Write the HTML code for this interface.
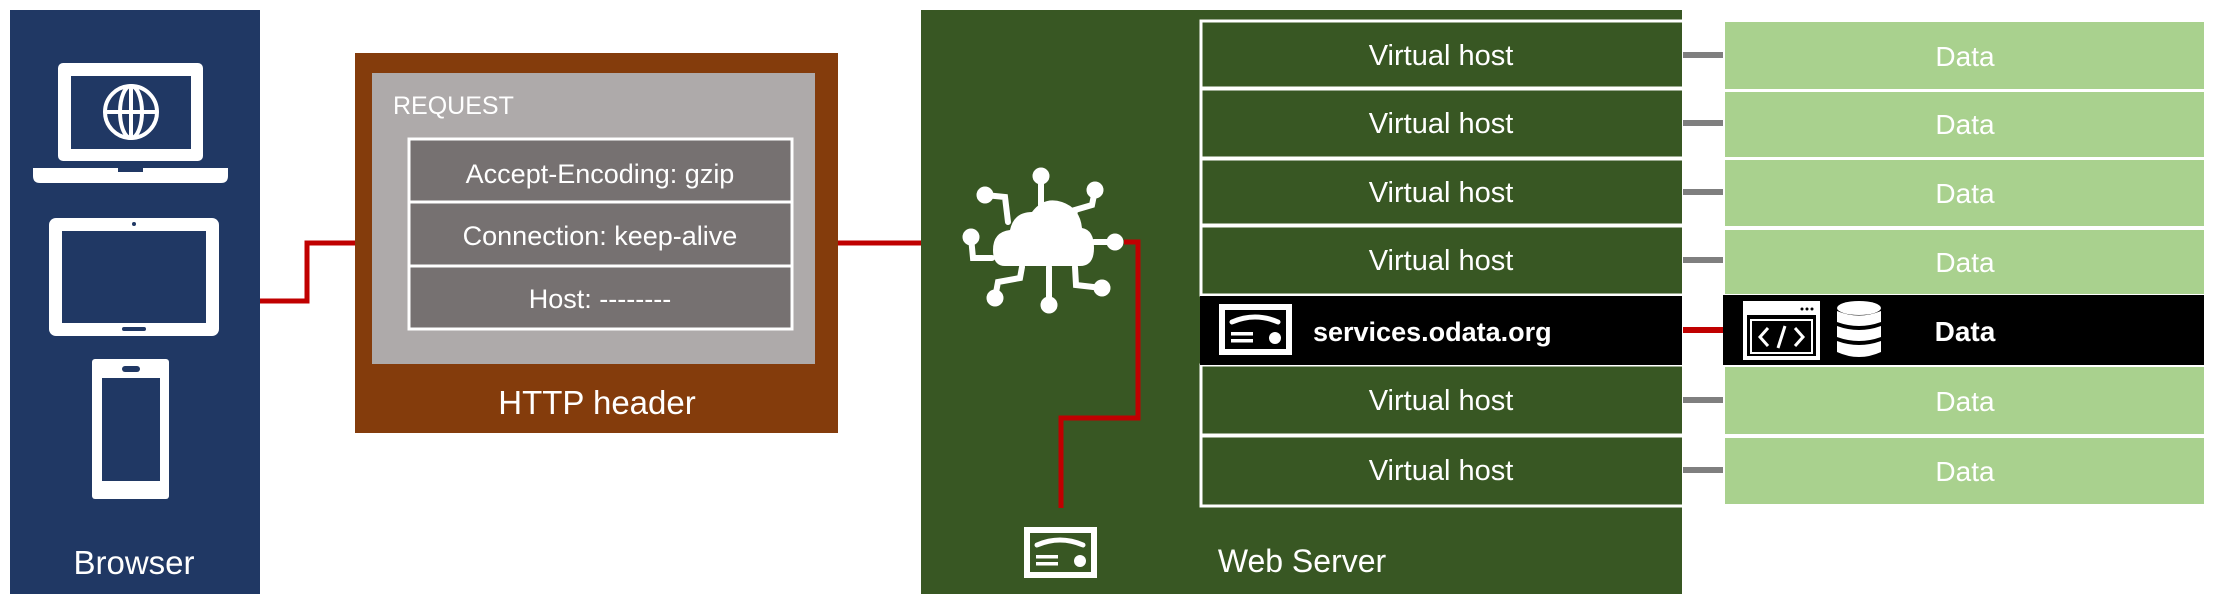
<!DOCTYPE html>
<html><head><meta charset="utf-8">
<style>
html,body{margin:0;padding:0;background:#fff;}
body{width:2214px;height:606px;position:relative;overflow:hidden;font-family:"Liberation Sans",sans-serif;}
svg{position:absolute;left:0;top:0;}
text{font-family:"Liberation Sans",sans-serif;fill:#fff;}
</style></head><body>
<svg width="2214" height="606" viewBox="0 0 2214 606">
<defs>
<g id="cert">
  <rect x="3" y="3" width="67" height="45" fill="none" stroke="#fff" stroke-width="6"/>
  <path d="M13 18 Q36 8 59 18" fill="none" stroke="#fff" stroke-width="5" stroke-linecap="round"/>
  <rect x="12" y="28" width="22" height="3.5" fill="#fff"/>
  <rect x="12" y="35" width="22" height="3.5" fill="#fff"/>
  <circle cx="56" cy="34" r="6" fill="#fff"/>
</g>
</defs>
<!-- Browser -->
<rect x="10" y="10" width="250" height="584" fill="#203864"/>
<rect x="58" y="63" width="145" height="98" rx="5" fill="#fff"/>
<rect x="71" y="76" width="120" height="73" fill="#203864"/>
<circle cx="131" cy="112" r="26" fill="none" stroke="#fff" stroke-width="4"/>
<ellipse cx="131" cy="112" rx="11" ry="26" fill="none" stroke="#fff" stroke-width="4"/>
<line x1="105" y1="112" x2="157" y2="112" stroke="#fff" stroke-width="4"/>
<line x1="131" y1="86" x2="131" y2="138" stroke="#fff" stroke-width="4"/>
<path d="M33 168 H228 V176 Q228 183 221 183 H40 Q33 183 33 176 Z" fill="#fff"/>
<rect x="118" y="168" width="25" height="4" fill="#203864"/>
<rect x="49" y="218" width="170" height="118" rx="7" fill="#fff"/>
<rect x="62" y="231" width="144" height="92" fill="#203864"/>
<circle cx="134" cy="224" r="2" fill="#203864"/>
<rect x="122" y="327" width="24" height="4" rx="2" fill="#203864"/>
<rect x="92" y="359" width="77" height="140" rx="3" fill="#fff"/>
<rect x="102" y="378" width="58" height="103" fill="#203864"/>
<rect x="122" y="366" width="18" height="6" rx="3" fill="#203864"/>
<text x="134" y="574" font-size="33" text-anchor="middle">Browser</text>
<!-- red lines -->
<polyline points="260,301 307,301 307,243 355,243" fill="none" stroke="#c00000" stroke-width="5"/>
<line x1="838" y1="243" x2="965" y2="243" stroke="#c00000" stroke-width="5"/>
<!-- HTTP header -->
<rect x="355" y="53" width="483" height="380" fill="#843c0c"/>
<rect x="372" y="73" width="443" height="291" fill="#aeaaaa"/>
<text x="393" y="114" font-size="25">REQUEST</text>
<g stroke="#fff" stroke-width="3" fill="#767171">
<rect x="409" y="139" width="383" height="63"/>
<rect x="409" y="202" width="383" height="64"/>
<rect x="409" y="266" width="383" height="63"/>
</g>
<text x="600" y="183" font-size="27" text-anchor="middle">Accept-Encoding: gzip</text>
<text x="600" y="245" font-size="27" text-anchor="middle">Connection: keep-alive</text>
<text x="600" y="308" font-size="27" text-anchor="middle">Host: --------</text>
<text x="597" y="414" font-size="33" text-anchor="middle">HTTP header</text>
<!-- Web server -->
<rect x="921" y="10" width="761" height="584" fill="#385723"/>
<!-- cloud -->
<g fill="#fff" stroke="#fff">
<path d="M1005 266 Q993 266 993 250 Q993 232 1010 230 Q1014 212 1032 212 Q1044 196 1062 202 Q1080 208 1082 228 Q1094 230 1094 248 Q1094 266 1080 266 Z" stroke="none"/>
<g fill="none" stroke-width="6" stroke-linecap="round">
<line x1="1041" y1="180" x2="1041" y2="205"/>
<polyline points="985,195 1005,197 1008,222"/>
<polyline points="1095,190 1092,205 1075,210 1074,218"/>
<polyline points="971,237 973,258 992,258"/>
<line x1="1094" y1="242" x2="1115" y2="242"/>
<polyline points="995,298 998,282 1020,278 1022,267"/>
<line x1="1049" y1="305" x2="1049" y2="267"/>
<polyline points="1075,267 1076,285 1102,288"/>
</g>
<circle cx="1041" cy="176" r="8"/><circle cx="985" cy="195" r="8"/><circle cx="1095" cy="190" r="8"/>
<circle cx="971" cy="237" r="8"/><circle cx="1115" cy="242" r="8"/><circle cx="995" cy="298" r="8"/>
<circle cx="1049" cy="305" r="8"/><circle cx="1102" cy="288" r="8"/>
</g>
<polyline points="1124,242 1138,242 1138,418 1061,418 1061,508" fill="none" stroke="#c00000" stroke-width="5"/>
<use href="#cert" x="1024" y="527"/>
<text x="1302" y="572" font-size="32" text-anchor="middle">Web Server</text>
<!-- virtual hosts -->
<g stroke="#fff" stroke-width="3" fill="#385723">
<rect x="1201" y="21" width="490" height="67"/>
<rect x="1201" y="89" width="490" height="69"/>
<rect x="1201" y="159" width="490" height="66"/>
<rect x="1201" y="226" width="490" height="69"/>
<rect x="1201" y="365" width="490" height="70"/>
<rect x="1201" y="436" width="490" height="70"/>
</g>
<rect x="1200" y="296" width="482" height="69" fill="#000"/>
<rect x="1682" y="12" width="20" height="500" fill="#fff"/>
<g font-size="29" text-anchor="middle">
<text x="1441" y="65">Virtual host</text>
<text x="1441" y="133">Virtual host</text>
<text x="1441" y="202">Virtual host</text>
<text x="1441" y="270">Virtual host</text>
<text x="1441" y="410">Virtual host</text>
<text x="1441" y="480">Virtual host</text>
</g>
<use href="#cert" x="1219" y="304"/>
<text x="1313" y="341" font-size="27" font-weight="bold">services.odata.org</text>
<!-- connectors -->
<g fill="#7f7f7f">
<rect x="1683" y="52" width="40" height="6"/>
<rect x="1683" y="120" width="40" height="6"/>
<rect x="1683" y="189" width="40" height="6"/>
<rect x="1683" y="257" width="40" height="6"/>
<rect x="1683" y="397" width="40" height="6"/>
<rect x="1683" y="467" width="40" height="6"/>
</g>
<rect x="1683" y="327" width="40" height="6" fill="#c00000"/>
<!-- data -->
<g fill="#a9d18e">
<rect x="1725" y="22" width="479" height="67"/>
<rect x="1725" y="92" width="479" height="65"/>
<rect x="1725" y="160" width="479" height="66"/>
<rect x="1725" y="230" width="479" height="64"/>
<rect x="1725" y="367" width="479" height="67"/>
<rect x="1725" y="438" width="479" height="66"/>
</g>
<rect x="1723" y="295" width="481" height="70" fill="#000"/>
<g font-size="28" text-anchor="middle">
<text x="1965" y="66">Data</text>
<text x="1965" y="134">Data</text>
<text x="1965" y="203">Data</text>
<text x="1965" y="272">Data</text>
<text x="1965" y="411">Data</text>
<text x="1965" y="481">Data</text>
<text x="1965" y="341" font-weight="bold">Data</text>
</g>
<!-- code icon -->
<rect x="1745" y="303" width="73" height="55" fill="none" stroke="#fff" stroke-width="4"/>
<rect x="1745" y="303" width="73" height="12" fill="#fff"/>
<circle cx="1802" cy="309" r="1.5" fill="#000"/><circle cx="1807" cy="309" r="1.5" fill="#000"/><circle cx="1812" cy="309" r="1.5" fill="#000"/>
<rect x="1751" y="320" width="61" height="33" fill="none" stroke="#fff" stroke-width="2"/>
<path d="M1768 328 L1760 337 L1768 346 M1795 328 L1803 337 L1795 346 M1785 326 L1778 348" fill="none" stroke="#fff" stroke-width="3"/>
<!-- db icon -->
<g fill="#fff">
<ellipse cx="1859" cy="308" rx="22" ry="7"/>
<path d="M1837 311 Q1859 320 1881 311 V322 Q1859 330 1837 322 Z"/>
<path d="M1837 326 Q1859 334 1881 326 V337 Q1859 345 1837 337 Z"/>
<path d="M1837 341 Q1859 349 1881 341 V352 Q1859 362 1837 352 Z"/>
</g>
</svg>
</body></html>
